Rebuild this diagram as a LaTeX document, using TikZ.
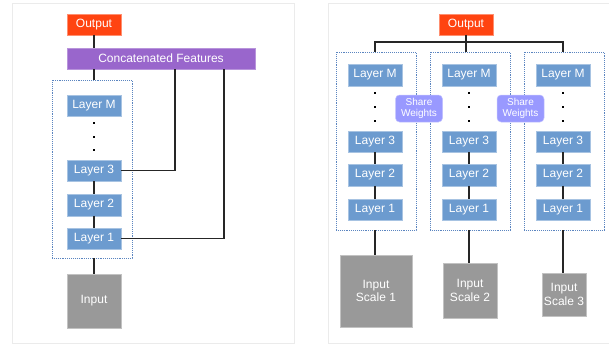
\documentclass[tikz,border=0pt]{standalone}
\usepackage{fontspec}
\setmainfont{Liberation Sans}
\begin{document}
\begin{tikzpicture}[x=1pt,y=-1pt,
  every node/.style={inner sep=0pt, outer sep=0pt, font=\fontsize{12}{13.5}\selectfont, text=white},
  panel/.style={draw=black!8, line width=0.8pt},
  outbox/.style={fill=outred, draw=outred!60!white, line width=0.5pt, minimum width=54pt, minimum height=21pt},
  concat/.style={fill=concatpurple, draw=concatpurple!70!white, line width=0.5pt, minimum width=188pt, minimum height=21pt},
  layerbox/.style={fill=layerblue, draw=layerblue!60!white, line width=0.5pt, minimum width=54pt, minimum height=21.5pt},
  inbox/.style={fill=inputgray, draw=inputgray!60!white, line width=0.5pt, align=center},
  sharebox/.style={fill=sharelav, draw=sharelav!60!white, line width=0.5pt, rounded corners=4pt, minimum width=47pt, minimum height=27pt, align=center, font=\fontsize{10}{11}\selectfont},
  group/.style={draw=groupblue, densely dotted, line width=0.9pt},
  conn/.style={draw=black!85, line width=1.3pt},
  dotsty/.style={fill=black, inner sep=0pt, minimum size=2pt}
]
\definecolor{outred}{HTML}{FF4411}
\definecolor{concatpurple}{HTML}{9966CC}
\definecolor{layerblue}{HTML}{6C9BCF}
\definecolor{inputgray}{HTML}{999999}
\definecolor{sharelav}{HTML}{9999FF}
\definecolor{groupblue}{HTML}{5B85C0}
\useasboundingbox (0,0) rectangle (609,345);
\fill[white] (0,0) rectangle (609,345);

% panels
\draw[panel] (12,3) rectangle (294,343);
\draw[panel] (612,3) -- (328,3) -- (328,343) -- (612,343);

% ---------------- left panel ----------------
\node[outbox] (lout) at (94,24.5) {Output};
\node[concat] (lcat) at (161,58.5) {Concatenated Features};
\node[group, minimum width=80pt, minimum height=178pt] (lgrp) at (92,169) {};
\node[layerbox] (lM) at (94,105.5) {Layer M};
\node[dotsty] (ld1) at (94,123) {};
\node[dotsty] (ld2) at (94,137) {};
\node[dotsty] (ld3) at (94,150) {};
\node[layerbox] (l3) at (94,170.5) {Layer 3};
\node[layerbox] (l2) at (94,205) {Layer 2};
\node[layerbox] (l1) at (94,238.5) {Layer 1};
\node[inbox, minimum width=54pt, minimum height=54pt] (lin) at (94,301) {Input};

\draw[conn] (lout.south) -- (lcat.north -| lout.south);
\draw[conn] (lcat.south -| lout.south) -- (lgrp.north -| lout.south);
\draw[conn] (l3) -- (l2);
\draw[conn] (l2) -- (l1);
\draw[conn] (lgrp.south -| lin.north) -- (lin.north);
\coordinate (lc3) at (175,170.5);
\coordinate (lc1) at (224,238.5);
\draw[conn] (l3.east) -- (lc3) -- (lc3 |- lcat.south);
\draw[conn] (l1.east) -- (lc1) -- (lc1 |- lcat.south);

% ---------------- right panel ----------------
\node[outbox] (rout) at (466,24.5) {Output};
\coordinate (bus) at (466,42);
\foreach \i/\cx/\gx in {1/375/376, 2/469/470, 3/563/564} {
  \node[group, minimum width=80pt, minimum height=178pt] (g\i) at (\gx,141) {};
  \node[layerbox] (m\i) at (\cx,75) {Layer M};
  \node[dotsty] (da\i) at (\cx,93) {};
  \node[dotsty] (db\i) at (\cx,107) {};
  \node[dotsty] (dc\i) at (\cx,121) {};
  \node[layerbox] (c\i) at (\cx,141.5) {Layer 3};
  \node[layerbox] (b\i) at (\cx,175) {Layer 2};
  \node[layerbox] (a\i) at (\cx,209.5) {Layer 1};
  \draw[conn] (c\i) -- (b\i);
  \draw[conn] (b\i) -- (a\i);
}
\draw[conn] (rout.south) -- (bus);
\draw[conn] (g1.north -| m1.north) -- (m1.north |- bus) -- (m3.north |- bus) -- (g3.north -| m3.north);
\draw[conn] (bus) -- (g2.north -| bus);

\node[inbox, minimum width=72pt, minimum height=72pt] (in1) at (376,291) {Input\\Scale 1};
\node[inbox, minimum width=54pt, minimum height=55pt] (in2) at (470,290.5) {Input\\Scale 2};
\node[inbox, minimum width=44pt, minimum height=43pt] (in3) at (564,294.5) {Input\\Scale 3};
\draw[conn] (g1.south -| a1.south) -- (in1.north -| a1.south);
\draw[conn] (g2.south -| a2.south) -- (in2.north -| a2.south);
\draw[conn] (g3.south -| a3.south) -- (in3.north -| a3.south);

\node[sharebox] (s1) at (419,108.5) {Share\\Weights};
\node[sharebox] (s2) at (520.5,108.5) {Share\\Weights};
\end{tikzpicture}
\end{document}
